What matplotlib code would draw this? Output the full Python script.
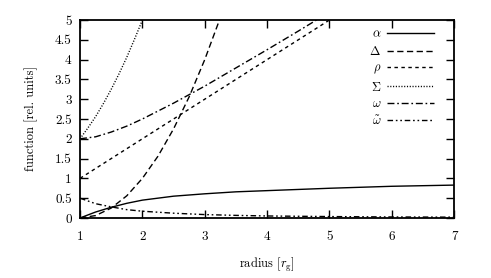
import matplotlib
matplotlib.use("Agg")
import matplotlib.pyplot as plt
from matplotlib.ticker import FixedLocator, FuncFormatter

plt.rcParams['font.family'] = ['cmr10', 'DejaVu Serif']
plt.rcParams['mathtext.fontset'] = 'cm'
plt.rcParams['axes.formatter.use_mathtext'] = True

# ---- data ----
r_alpha = [1.0, 1.25, 1.5, 1.75, 2.0, 2.5, 3.0, 3.5, 4.0, 5.0, 6.0, 7.0]
alpha = [0.0, 0.15, 0.27, 0.37, 0.45, 0.55, 0.61, 0.66, 0.69, 0.75, 0.80, 0.83]

r_delta = [1.0, 1.25, 1.5, 1.75, 2.0, 2.25, 2.5, 2.75, 3.0, 3.25, 3.5]
delta = [0.0, 0.06, 0.25, 0.56, 1.0, 1.56, 2.25, 3.06, 4.0, 5.06, 6.25]

r_rho = [1.0, 3.0, 5.5]
rho = [1.0, 3.0, 5.5]

r_sigma = [1.0, 1.125, 1.25, 1.375, 1.5, 1.625, 1.75, 1.875, 2.0, 2.125]
sigma = [2.0, 2.27, 2.56, 2.89, 3.25, 3.64, 4.06, 4.52, 5.0, 5.52]

r_omega = [1.0, 1.25, 1.5, 1.75, 2.0, 2.5, 3.0, 3.5, 4.0, 4.5, 5.0]
omega = [2.0, 2.05, 2.17, 2.32, 2.5, 2.9, 3.33, 3.79, 4.25, 4.72, 5.2]

r_omt = [1.0, 1.25, 1.5, 1.75, 2.0, 2.5, 3.0, 3.5, 4.0, 5.0, 6.0, 7.0]
omega_t = [0.5, 0.36, 0.28, 0.21, 0.17, 0.12, 0.085, 0.065, 0.05, 0.035, 0.025, 0.02]

labels = [r'$\alpha$', r'$\Delta$', r'$\rho$', r'$\Sigma$', r'$\omega$', r'$\tilde{\omega}$']
xticks = [1, 2, 3, 4, 5, 6, 7]
yticks = [0, 0.5, 1, 1.5, 2, 2.5, 3, 3.5, 4, 4.5, 5]

# ---- figure ----
fig = plt.figure(figsize=(4.91, 2.78), dpi=100)
ax = fig.add_axes([0.163, 0.216, 0.762, 0.712])

lw = 1.0
ax.plot(r_alpha, alpha, color='black', lw=lw, ls='-', label=labels[0])
ax.plot(r_delta, delta, color='black', lw=lw, ls=(0, (4.5, 2.5)), label=labels[1])
ax.plot(r_rho, rho, color='black', lw=lw, ls=(0, (2.5, 2.5)), label=labels[2])
ax.plot(r_sigma, sigma, color='black', lw=lw, ls=(0, (0.8, 1.2)), label=labels[3])
ax.plot(r_omega, omega, color='black', lw=lw, ls=(0, (5, 2, 1.2, 2)), label=labels[4])
ax.plot(r_omt, omega_t, color='black', lw=lw, ls=(0, (4, 2, 1.2, 2, 1.2, 2)), label=labels[5])

ax.set_xlim(1, 7)
ax.set_ylim(0, 5)
ax.xaxis.set_major_locator(FixedLocator(xticks))
ax.yaxis.set_major_locator(FixedLocator(yticks))
fmt = FuncFormatter(lambda v, p: '%g' % v)
ax.xaxis.set_major_formatter(fmt)
ax.yaxis.set_major_formatter(fmt)
ax.tick_params(direction='in', length=5.5, width=1.0, top=True, right=True,
               labelsize=9.5, colors='black')
ax.tick_params(axis='x', pad=9)
ax.tick_params(axis='y', pad=6)
for s in ax.spines.values():
    s.set_linewidth(1.3)

ax.set_xlabel(r'radius [$r_{\rm g}$]', fontsize=9, labelpad=10)
ax.set_ylabel('function [rel. units]', fontsize=9, labelpad=12)

leg = ax.legend(loc='upper right', bbox_to_anchor=(0.965, 0.995), frameon=False,
                markerfirst=False, fontsize=9, handlelength=3.7,
                handletextpad=0.5, labelspacing=0.35, borderaxespad=0.2)

fig.savefig('out.png', dpi=100)
